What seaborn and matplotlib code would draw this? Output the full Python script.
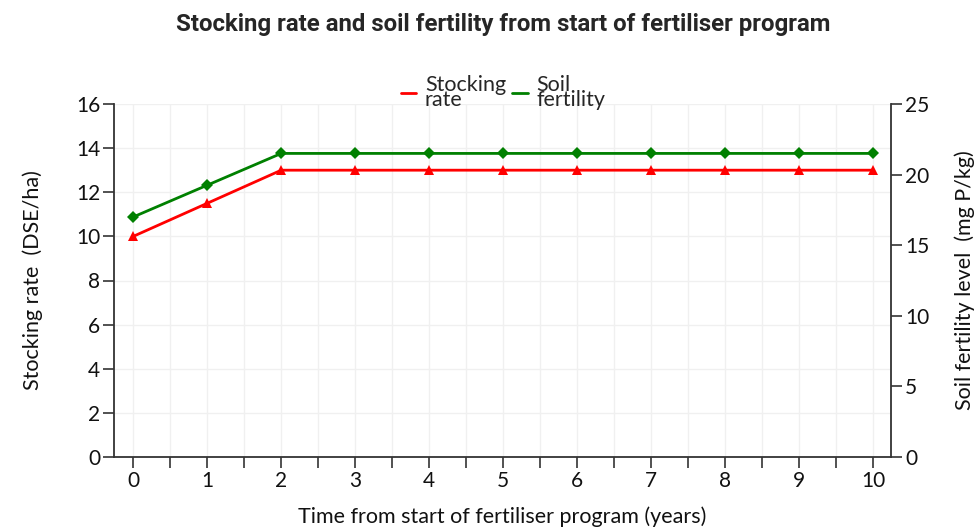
import matplotlib
matplotlib.use("Agg")
import matplotlib.pyplot as plt
import seaborn as sns
import pandas as pd
import numpy as np
from matplotlib.lines import Line2D

years = [0, 1, 2, 3, 4, 5, 6, 7, 8, 9, 10]
stocking_rate = [10, 11.5, 13, 13, 13, 13, 13, 13, 13, 13, 13]
soil_fertility = [17, 19.25, 21.5, 21.5, 21.5, 21.5, 21.5, 21.5, 21.5, 21.5, 21.5]
left_ticks = [0, 2, 4, 6, 8, 10, 12, 14, 16]
right_ticks = [0, 5, 10, 15, 20, 25]

sns.set_theme(style="white")
plt.rcParams['font.family'] = ['Lato', 'DejaVu Sans']

df = pd.DataFrame({"year": years, "stock": stocking_rate, "soil": soil_fertility})

fig = plt.figure(figsize=(9.77, 5.31), dpi=100)
ax = fig.add_axes([114/977, 1-457/531, (891-114)/977, (457-104)/531])
ax2 = ax.twinx()

sns.lineplot(data=df, x="year", y="stock", ax=ax, color="#ff0000", marker="^",
             markersize=7, markeredgewidth=0, linewidth=2, zorder=3)
sns.lineplot(data=df, x="year", y="soil", ax=ax2, color="#008000", marker="D",
             markersize=6, markeredgewidth=0, linewidth=2, zorder=3)

ax.set_xlim(-0.26, 10.24)
ax.set_ylim(0, 16)
ax2.set_ylim(0, 25)
ax.set_xticks(np.arange(0, 10.5, 0.5))
ax.set_xticklabels([str(int(v)) if v == int(v) else "" for v in np.arange(0, 10.5, 0.5)])
ax.set_yticks(left_ticks)
ax2.set_yticks(right_ticks)

ax.grid(True, color="#f0f0f0", linewidth=1)
ax2.grid(False)
ax.set_axisbelow(True)

for a in (ax, ax2):
    for s in a.spines.values():
        s.set_visible(False)
ax.spines['left'].set_visible(True)
ax.spines['bottom'].set_visible(True)
ax2.spines['right'].set_visible(True)
for s in (ax.spines['left'], ax.spines['bottom'], ax2.spines['right']):
    s.set_color("#333333")
    s.set_linewidth(1.3)

ax.tick_params(axis='both', which='major', direction='out', length=8, width=1.2,
               color="#333333", labelsize=15, labelcolor="#111111", left=True, bottom=True, pad=2)
ax2.tick_params(axis='y', direction='out', length=8, width=1.2, color="#333333",
                labelsize=15, labelcolor="#111111", right=True, pad=2)

ax.set_xlabel("Time from start of fertiliser program (years)", fontsize=15.5, labelpad=11, color="#111111")
ax.set_ylabel("Stocking rate  (DSE/ha)", fontsize=15.5, labelpad=24, color="#111111")
ax2.set_ylabel("Soil fertility level  (mg P/kg)", fontsize=15.5, labelpad=18, color="#111111")

fig.suptitle("Stocking rate and soil fertility from start of fertiliser program",
             fontsize=17.3, fontweight="bold", family=["Roboto", "DejaVu Sans"], y=0.975, x=0.515)

handles = [Line2D([0], [0], color="#ff0000", linewidth=2),
           Line2D([0], [0], color="#008000", linewidth=2)]
fig.legend(handles, ["Stocking\nrate", "Soil\nfertility"], loc="center", ncol=2,
           bbox_to_anchor=(0.515, 0.826), frameon=False, handlelength=0.7,
           handletextpad=0.4, columnspacing=0.3, fontsize=15.5)
for t in fig.legends[0].get_texts():
    t.set_linespacing(0.7)

fig.savefig("out.png", dpi=100)
